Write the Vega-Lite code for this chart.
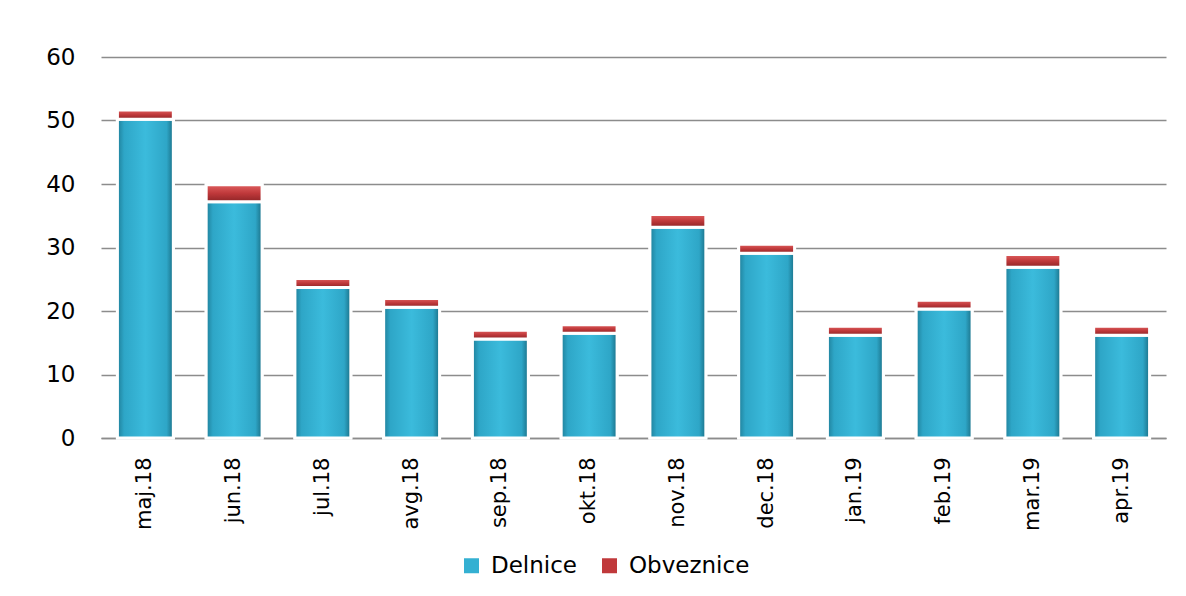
{
  "$schema": "https://vega.github.io/schema/vega-lite/v6.json",
  "width": 1065,
  "height": 381,
  "autosize": {"type": "none"},
  "padding": {"left": 101, "top": 57, "right": 20, "bottom": 158},
  "background": "white",
  "data": {
    "values": [
      {"mesec": "maj.18", "vrsta": "Delnice", "red": 1, "vrednost": 50.2},
      {"mesec": "maj.18", "vrsta": "Obveznice", "red": 2, "vrednost": 1.45},
      {"mesec": "jun.18", "vrsta": "Delnice", "red": 1, "vrednost": 37.2},
      {"mesec": "jun.18", "vrsta": "Obveznice", "red": 2, "vrednost": 2.7},
      {"mesec": "jul.18", "vrsta": "Delnice", "red": 1, "vrednost": 23.7},
      {"mesec": "jul.18", "vrsta": "Obveznice", "red": 2, "vrednost": 1.4},
      {"mesec": "avg.18", "vrsta": "Delnice", "red": 1, "vrednost": 20.6},
      {"mesec": "avg.18", "vrsta": "Obveznice", "red": 2, "vrednost": 1.35},
      {"mesec": "sep.18", "vrsta": "Delnice", "red": 1, "vrednost": 15.6},
      {"mesec": "sep.18", "vrsta": "Obveznice", "red": 2, "vrednost": 1.35},
      {"mesec": "okt.18", "vrsta": "Delnice", "red": 1, "vrednost": 16.5},
      {"mesec": "okt.18", "vrsta": "Obveznice", "red": 2, "vrednost": 1.35},
      {"mesec": "nov.18", "vrsta": "Delnice", "red": 1, "vrednost": 33.2},
      {"mesec": "nov.18", "vrsta": "Obveznice", "red": 2, "vrednost": 2.0},
      {"mesec": "dec.18", "vrsta": "Delnice", "red": 1, "vrednost": 29.1},
      {"mesec": "dec.18", "vrsta": "Obveznice", "red": 2, "vrednost": 1.4},
      {"mesec": "jan.19", "vrsta": "Delnice", "red": 1, "vrednost": 16.2},
      {"mesec": "jan.19", "vrsta": "Obveznice", "red": 2, "vrednost": 1.4},
      {"mesec": "feb.19", "vrsta": "Delnice", "red": 1, "vrednost": 20.3},
      {"mesec": "feb.19", "vrsta": "Obveznice", "red": 2, "vrednost": 1.4},
      {"mesec": "mar.19", "vrsta": "Delnice", "red": 1, "vrednost": 26.9},
      {"mesec": "mar.19", "vrsta": "Obveznice", "red": 2, "vrednost": 2.0},
      {"mesec": "apr.19", "vrsta": "Delnice", "red": 1, "vrednost": 16.2},
      {"mesec": "apr.19", "vrsta": "Obveznice", "red": 2, "vrednost": 1.4}
    ]
  },
  "transform": [
    {"stack": "vrednost", "groupby": ["mesec"], "sort": [{"field": "red", "order": "ascending"}], "as": ["y0", "y1"]}
  ],
  "encoding": {
    "x": {
      "field": "mesec",
      "type": "nominal",
      "sort": null,
      "scale": {"paddingInner": 0.37, "paddingOuter": 0.185},
      "axis": {
        "title": null,
        "labelAngle": -90,
        "labelFont": "DejaVu Sans",
        "labelFontSize": 21,
        "labelColor": "black",
        "labelPadding": 19,
        "ticks": false,
        "domainColor": "#8c8c8c",
        "domainWidth": 1.5
      }
    },
    "y": {
      "field": "y0",
      "type": "quantitative",
      "scale": {"domain": [0, 60], "nice": false},
      "axis": {
        "title": null,
        "values": [0, 10, 20, 30, 40, 50, 60],
        "labelFont": "DejaVu Sans",
        "labelFontSize": 23,
        "labelColor": "black",
        "labelPadding": 26,
        "ticks": false,
        "domain": false,
        "gridColor": "#8c8c8c",
        "gridWidth": 1.5
      }
    },
    "y2": {"field": "y1"}
  },
  "layer": [
    {
      "mark": {"type": "bar", "stroke": "white", "strokeWidth": 3},
      "encoding": {
        "color": {
          "field": "vrsta",
          "type": "nominal",
          "scale": {"domain": ["Delnice", "Obveznice"], "range": ["#34b0d2", "#c0393b"]},
          "legend": {
            "title": null,
            "orient": "none",
            "legendX": 359,
            "legendY": 497,
            "direction": "horizontal",
            "symbolType": "square",
            "symbolSize": 225,
            "symbolStrokeWidth": 0,
            "labelFont": "DejaVu Sans",
            "labelFontSize": 23,
            "labelColor": "black",
            "labelOffset": 8,
            "columnPadding": 20
          }
        }
      }
    },
    {
      "transform": [{"filter": "datum.vrsta === 'Delnice'"}],
      "mark": {
        "type": "bar",
        "stroke": "white",
        "strokeWidth": 3,
        "fill": {"gradient": "linear", "x1": 0, "y1": 0, "x2": 1, "y2": 0, "stops": [
          {"offset": 0, "color": "#1f7f99"},
          {"offset": 0.12, "color": "#2ea6c7"},
          {"offset": 0.5, "color": "#3bbbdc"},
          {"offset": 0.88, "color": "#2ea6c7"},
          {"offset": 1, "color": "#1a6f86"}
        ]}
      }
    },
    {
      "transform": [{"filter": "datum.vrsta === 'Obveznice'"}],
      "mark": {
        "type": "bar",
        "stroke": "white",
        "strokeWidth": 3,
        "fill": {"gradient": "linear", "x1": 0, "y1": 0, "x2": 0, "y2": 1, "stops": [
          {"offset": 0, "color": "#e06060"},
          {"offset": 0.5, "color": "#c0393b"},
          {"offset": 1, "color": "#8e2426"}
        ]}
      }
    }
  ],
  "config": {
    "view": {"stroke": null}
  }
}
